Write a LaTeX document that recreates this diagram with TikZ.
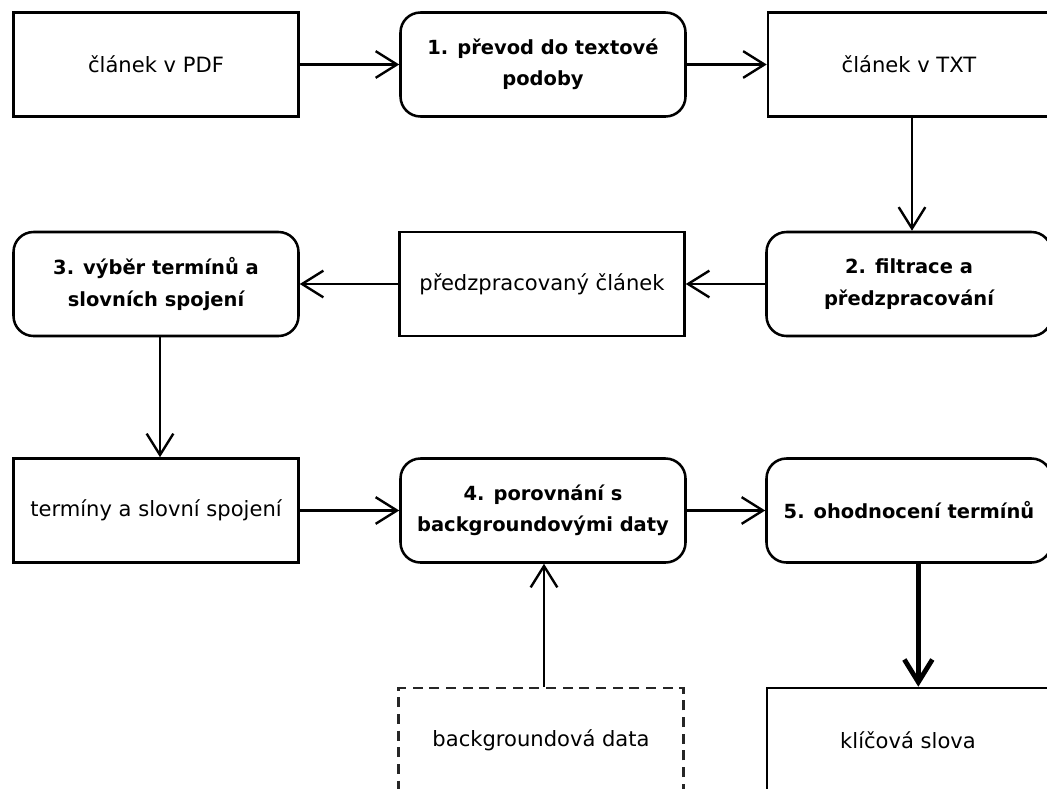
\documentclass[tikz,border=0pt]{standalone}
\usepackage{fontspec}
\setmainfont{DejaVu Sans}
\usetikzlibrary{arrows.meta}
\newcommand\regfont{\fontsize{15.8}{18}\selectfont}
\newcommand\procfont{\bfseries\fontsize{14.6}{23.5}\selectfont}
\begin{document}
\begin{tikzpicture}[x=0.75pt,y=-0.75pt,
  box/.style={draw, line width=1.9pt, minimum width=213.75pt, minimum height=78pt,
    inner sep=0pt, align=center, font=\regfont},
  widebox/.style={box, minimum width=211.5pt},
  proc/.style={box, rounded corners=15pt, font=\procfont},
  dashbox/.style={box, draw=black!85, dash pattern=on 7.5pt off 5pt},
  conn/.style={line width=1.8pt, -{Straight Barb[length=16pt,width=20pt,line width=1.8pt]}},
  thickconn/.style={line width=3.6pt, -{Straight Barb[length=17pt,width=21pt,line width=3.6pt]}}]
\useasboundingbox (0,0) rectangle (1047,789);
\fill[white] (0,0) rectangle (1047,789);
\clip (0,0) rectangle (1047,789);
% row 1
\node[box] (pdf) at (156,64.5) {článek v PDF};
\node[proc] (s1) at (543,64.5) {1. převod do textové\\podoby};
\node[widebox] (txt) at (909,64.5) {článek v TXT};
% row 2
\node[proc] (s3) at (156,284) {3. výběr termínů a\\slovních spojení};
\node[box] (pre) at (542,284) {předzpracovaný článek};
\node[widebox, proc] (s2) at (909,284) {2. filtrace a\\předzpracování};
% row 3
\node[box] (term) at (156,510.5) {termíny a slovní spojení};
\node[proc] (s4) at (543,510.5) {4. porovnání s\\backgroundovými daty};
\node[widebox, proc] (s5) at (909,510.5) {5. ohodnocení termínů};
% row 4
\node[dashbox] (bg) at (541,740) {backgroundová data};
\node[widebox] (kw) at (908,740) {klíčová slova};
% connectors
\draw[conn] ([xshift=2.25pt]txt.south) -- ([xshift=2.25pt]txt.south |- s2.north);
\draw[conn] (pdf) -- (s1);
\draw[conn] (s1) -- (txt);
\draw[conn] (s2) -- (pre);
\draw[conn] (pre) -- (s3);
\draw[conn] ([xshift=3pt]s3.south) -- ([xshift=3pt]s3.south |- term.north);
\draw[conn] (term) -- (s4);
\draw[conn] (s4) -- (s5);
\draw[conn] ([xshift=2.25pt]bg.north) -- ([xshift=2.25pt]bg.north |- s4.south);
\draw[thickconn] ([xshift=7pt]s5.south) -- ([xshift=7pt]s5.south |- kw.north);
\end{tikzpicture}
\end{document}
